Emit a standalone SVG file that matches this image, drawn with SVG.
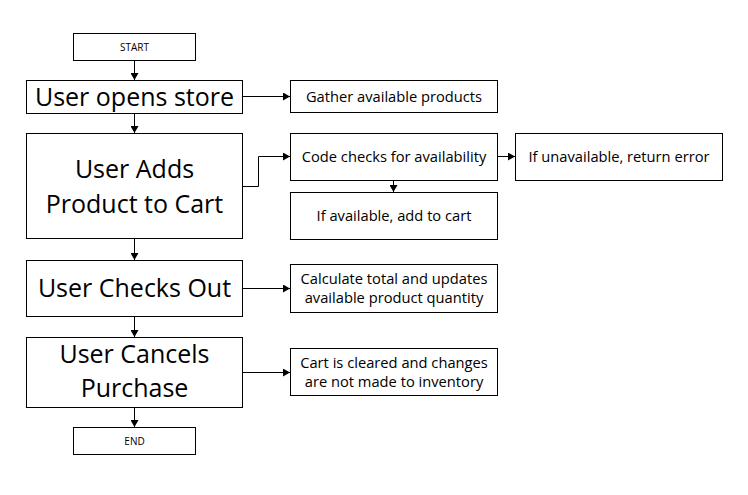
<svg xmlns="http://www.w3.org/2000/svg" width="748" height="495" viewBox="0 0 748 495">
<defs>
<marker id="arr" markerWidth="8" markerHeight="8" refX="7" refY="4" orient="auto" markerUnits="userSpaceOnUse">
<path d="M0,0 L7,4 L0,8 Z" fill="#000"/>
</marker>
<style>
rect{fill:#fff;stroke:#000;stroke-width:1}
text{font-family:"Open Sans","Noto Sans","DejaVu Sans",sans-serif;fill:#000;text-anchor:middle}
.big{font-size:25px}
.mid{font-size:14.7px}
.sm{font-size:10px}
.c{fill:none;stroke:#000;stroke-width:1;marker-end:url(#arr)}
</style>
</defs>
<rect x="0" y="0" width="748" height="495" style="stroke:none"/>
<g id="connectors">
<path class="c" d="M134.5,60.5 V80"/>
<path class="c" d="M134.5,113.5 V133"/>
<path class="c" d="M134.5,238.5 V260"/>
<path class="c" d="M134.5,316.5 V337"/>
<path class="c" d="M134.5,407.5 V427"/>
<path class="c" d="M242.5,96.5 H290"/>
<path class="c" d="M242.5,186.5 H258.5 V156.5 H290"/>
<path class="c" d="M497.5,156.5 H515"/>
<path class="c" d="M393.5,180.5 V192"/>
<path class="c" d="M242.5,288.5 H290"/>
<path class="c" d="M242.5,372.5 H290"/>
</g>
<g id="start"><rect x="73.5" y="33.5" width="122" height="27"/><text class="sm" x="134.5" y="50.5">START</text></g>
<g id="open"><rect x="26.5" y="80.5" width="216" height="33"/><text class="big" x="134.5" y="106">User opens store</text></g>
<g id="adds"><rect x="26.5" y="133.5" width="216" height="105"/><text class="big" x="134.5" y="178">User Adds</text><text class="big" x="134.5" y="213">Product to Cart</text></g>
<g id="checkout"><rect x="26.5" y="260.5" width="216" height="56"/><text class="big" x="134.5" y="297">User Checks Out</text></g>
<g id="cancel"><rect x="26.5" y="337.5" width="216" height="70"/><text class="big" x="134.5" y="363">User Cancels</text><text class="big" x="134.5" y="397">Purchase</text></g>
<g id="end"><rect x="73.5" y="427.5" width="122" height="27"/><text class="sm" x="134.5" y="444.5">END</text></g>
<g id="gather"><rect x="290.5" y="80.5" width="207" height="32"/><text class="mid" x="394" y="101.5">Gather available products</text></g>
<g id="code"><rect x="290.5" y="133.5" width="207" height="47"/><text class="mid" x="394" y="161.5">Code checks for availability</text></g>
<g id="unavail"><rect x="515.5" y="133.5" width="207" height="47"/><text class="mid" x="619" y="161.5">If unavailable, return error</text></g>
<g id="avail"><rect x="290.5" y="192.5" width="207" height="47"/><text class="mid" x="394" y="220.5">If available, add to cart</text></g>
<g id="calc"><rect x="290.5" y="264.5" width="207" height="48"/><text class="mid" x="394" y="283.5">Calculate total and updates</text><text class="mid" x="394" y="302.5">available product quantity</text></g>
<g id="cleared"><rect x="290.5" y="348.5" width="207" height="47"/><text class="mid" x="394" y="367.5">Cart is cleared and changes</text><text class="mid" x="394" y="386.5">are not made to inventory</text></g>
</svg>
